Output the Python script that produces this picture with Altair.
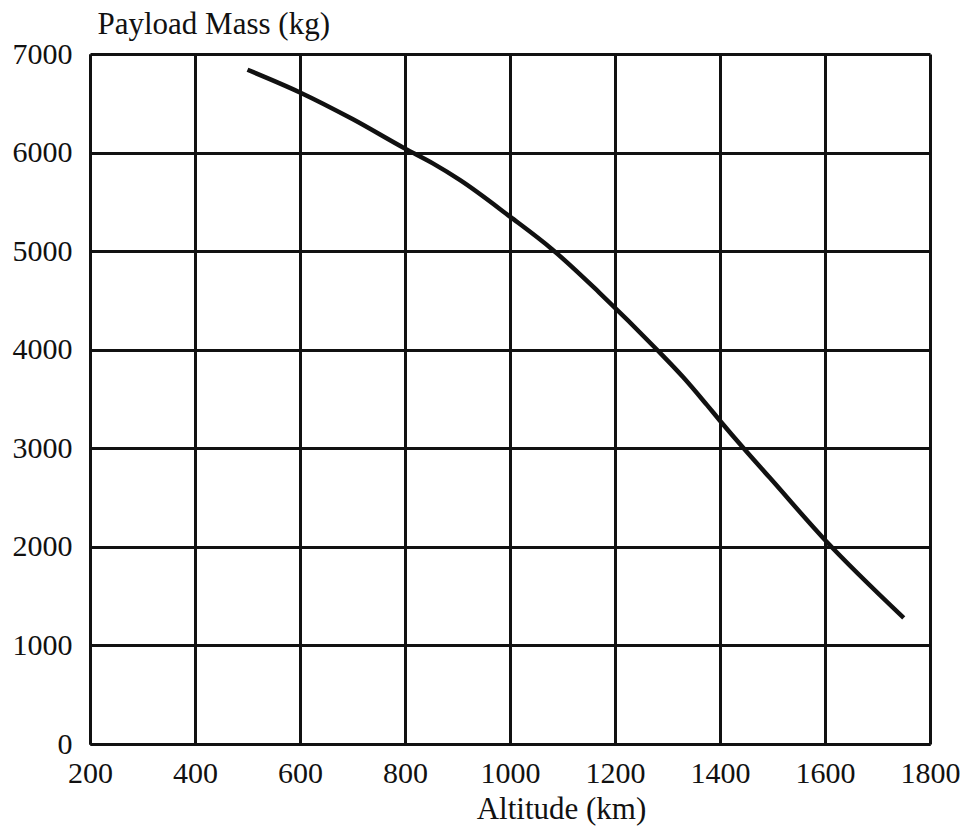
import altair as alt
import pandas as pd

# Payload capability versus orbit altitude
altitude_km = [500, 600, 700, 800, 853, 905, 1000, 1080, 1170, 1280, 1330, 1375, 1400, 1445, 1495, 1600, 1750]
payload_kg = [6840, 6610, 6340, 6040, 5890, 5720, 5350, 5020, 4580, 4000, 3720, 3440, 3280, 3000, 2700, 2070, 1280]

x_ticks = [200, 400, 600, 800, 1000, 1200, 1400, 1600, 1800]
y_ticks = [0, 1000, 2000, 3000, 4000, 5000, 6000, 7000]

df = pd.DataFrame({"altitude": altitude_km, "payload": payload_kg})

FONT = "Liberation Serif"
INK = "#111111"

chart = (
    alt.Chart(df)
    .mark_line(color=INK, strokeWidth=4.5, interpolate="monotone", strokeCap="butt")
    .encode(
        x=alt.X(
            "altitude:Q",
            scale=alt.Scale(domain=[200, 1800], nice=False, zero=False),
            axis=alt.Axis(
                values=x_ticks,
                format="d",
                title="Altitude (km)",
                titleX=471,
                titleY=74,
                titleAlign="center",
                titleBaseline="alphabetic",
                labelPadding=14,
            ),
        ),
        y=alt.Y(
            "payload:Q",
            scale=alt.Scale(domain=[0, 7000], nice=False),
            axis=alt.Axis(
                values=y_ticks,
                format="d",
                title="Payload Mass (kg)",
                titleAngle=0,
                titleX=7,
                titleY=-21,
                titleAlign="left",
                titleBaseline="alphabetic",
                labelPadding=18,
            ),
        ),
    )
    .properties(
        width=840,
        height=690,
        background="white",
        autosize=alt.AutoSizeParams(type="none"),
        padding={"left": 90, "top": 54, "right": 40, "bottom": 92},
    )
    .configure_view(stroke=None)
    .configure_axis(
        grid=True,
        gridColor=INK,
        gridWidth=3,
        gridOpacity=1,
        domainColor=INK,
        domainWidth=3,
        ticks=False,
        tickSize=0,
        labelFont=FONT,
        labelFontSize=30,
        labelColor=INK,
        titleFont=FONT,
        titleFontSize=31,
        titleFontWeight="normal",
        titleColor=INK,
        labelFlush=False,
        labelOverlap=False,
    )
)

chart.save("out.html", embed_options={"renderer": "svg", "actions": False})
